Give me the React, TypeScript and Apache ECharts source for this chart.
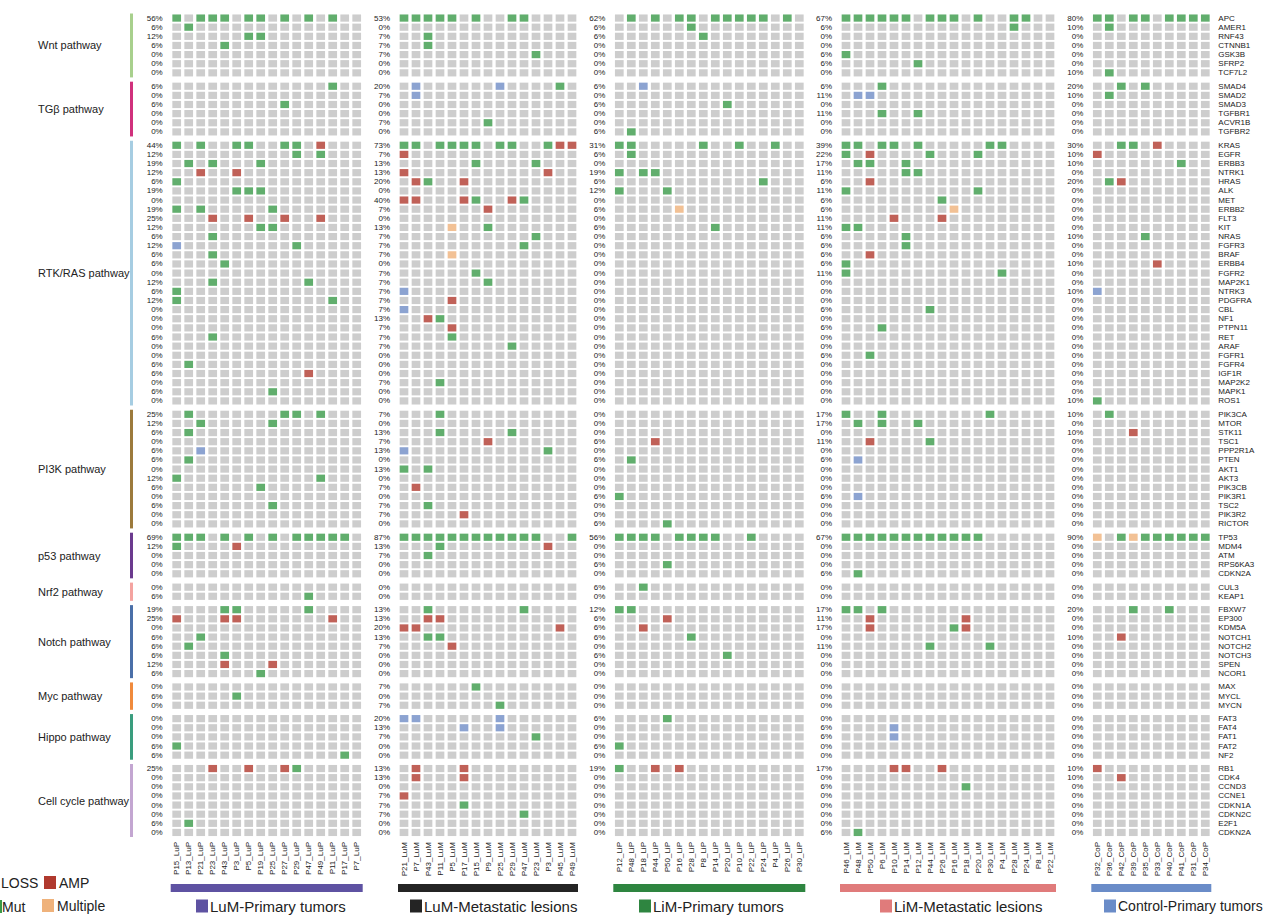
import React, { useEffect, useRef } from "react";
import * as echarts from "echarts";

// ---------- categories ----------
const PATHWAY_KEYS = ["wnt", "tgf", "rtk", "pi3k", "p53", "nrf2", "notch", "myc", "hippo", "cc"];
const PATHWAY_LABELS = [
  "Wnt pathway", "TGβ pathway", "RTK/RAS pathway", "PI3K pathway", "p53 pathway",
  "Nrf2 pathway", "Notch pathway", "Myc pathway", "Hippo pathway", "Cell cycle pathway",
];
const PATHWAY_COLORS = [
  "#a8d08d", "#d0317c", "#a6cde2", "#9c7a3c", "#6b3a8e",
  "#f4a3a0", "#4a6fa8", "#f08a3c", "#3a9d7e", "#c3a6d1",
];
const WNT_GENES = ["APC", "AMER1", "RNF43", "CTNNB1", "GSK3B", "SFRP2", "TCF7L2"];
const TGF_GENES = ["SMAD4", "SMAD2", "SMAD3", "TGFBR1", "ACVR1B", "TGFBR2"];
const RTK_GENES = [
  "KRAS", "EGFR", "ERBB3", "NTRK1", "HRAS", "ALK", "MET", "ERBB2", "FLT3", "KIT", "NRAS",
  "FGFR3", "BRAF", "ERBB4", "FGFR2", "MAP2K1", "NTRK3", "PDGFRA", "CBL", "NF1", "PTPN11",
  "RET", "ARAF", "FGFR1", "FGFR4", "IGF1R", "MAP2K2", "MAPK1", "ROS1",
];
const PI3K_GENES = [
  "PIK3CA", "MTOR", "STK11", "TSC1", "PPP2R1A", "PTEN", "AKT1", "AKT3", "PIK3CB",
  "PIK3R1", "TSC2", "PIK3R2", "RICTOR",
];
const P53_GENES = ["TP53", "MDM4", "ATM", "RPS6KA3", "CDKN2A"];
const NRF2_GENES = ["CUL3", "KEAP1"];
const NOTCH_GENES = ["FBXW7", "EP300", "KDM5A", "NOTCH1", "NOTCH2", "NOTCH3", "SPEN", "NCOR1"];
const MYC_GENES = ["MAX", "MYCL", "MYCN"];
const HIPPO_GENES = ["FAT3", "FAT4", "FAT1", "FAT2", "NF2"];
const CC_GENES = ["RB1", "CDK4", "CCND3", "CCNE1", "CDKN1A", "CDKN2C", "E2F1", "CDKN2A"];
const PATHWAY_GENES = [
  WNT_GENES, TGF_GENES, RTK_GENES, PI3K_GENES, P53_GENES,
  NRF2_GENES, NOTCH_GENES, MYC_GENES, HIPPO_GENES, CC_GENES,
];

const GROUP_NAMES = [
  "LuM-Primary tumors", "LuM-Metastatic lesions", "LiM-Primary tumors",
  "LiM-Metastatic lesions", "Control-Primary tumors",
];
const GROUP_COLORS = ["#5e52a2", "#242424", "#2e8540", "#e07b7b", "#6a8cc8"];

const LUP_SAMPLES = ["P15_LuP", "P13_LuP", "P21_LuP", "P23_LuP", "P43_LuP", "P3_LuP", "P5_LuP", "P19_LuP", "P25_LuP", "P27_LuP", "P29_LuP", "P47_LuP", "P49_LuP", "P11_LuP", "P17_LuP", "P7_LuP"];
const LUM_SAMPLES = ["P21_LuM", "P7_LuM", "P43_LuM", "P11_LuM", "P5_LuM", "P17_LuM", "P15_LuM", "P9_LuM", "P25_LuM", "P29_LuM", "P47_LuM", "P23_LuM", "P3_LuM", "P45_LuM", "P49_LuM"];
const LIP_SAMPLES = ["P12_LiP", "P48_LiP", "P18_LiP", "P44_LiP", "P50_LiP", "P16_LiP", "P28_LiP", "P8_LiP", "P14_LiP", "P20_LiP", "P10_LiP", "P22_LiP", "P24_LiP", "P4_LiP", "P26_LiP", "P30_LiP"];
const LIM_SAMPLES = ["P46_LiM", "P48_LiM", "P50_LiM", "P6_LiM", "P10_LiM", "P14_LiM", "P12_LiM", "P44_LiM", "P26_LiM", "P16_LiM", "P18_LiM", "P20_LiM", "P30_LiM", "P4_LiM", "P28_LiM", "P24_LiM", "P8_LiM", "P22_LiM"];
const COP_SAMPLES = ["P32_CoP", "P36_CoP", "P42_CoP", "P39_CoP", "P35_CoP", "P33_CoP", "P40_CoP", "P41_CoP", "P31_CoP", "P34_CoP"];

// ---------- alterations: '.' none, M Mut, A AMP, L LOSS, X Multiple ----------
const LUP_ALT: [string, string][] = [
  ["wnt:APC", "M.MMM.MM.M.M.M.."],
  ["wnt:AMER1", ".M.............."],
  ["wnt:RNF43", "......MM........"],
  ["wnt:CTNNB1", "....M..........."],
  ["tgf:SMAD4", ".............M.."],
  ["tgf:SMAD3", ".........M......"],
  ["rtk:KRAS", "M.M..MM..MM.A..."],
  ["rtk:EGFR", "..........M.M..."],
  ["rtk:ERBB3", ".M.M...M........"],
  ["rtk:NTRK1", "..A..A.........."],
  ["rtk:HRAS", "M..............."],
  ["rtk:ALK", ".....MMM........"],
  ["rtk:ERBB2", "M.M.....M......."],
  ["rtk:FLT3", "...A..A..A..A..."],
  ["rtk:KIT", ".......MM......."],
  ["rtk:NRAS", "...M............"],
  ["rtk:FGFR3", "L.........M....."],
  ["rtk:BRAF", "...M............"],
  ["rtk:ERBB4", "....M..........."],
  ["rtk:MAP2K1", "...M.......M...."],
  ["rtk:NTRK3", "M..............."],
  ["rtk:PDGFRA", "M............M.."],
  ["rtk:RET", "...M............"],
  ["rtk:FGFR4", ".M.............."],
  ["rtk:IGF1R", "...........A...."],
  ["rtk:MAPK1", "........M......."],
  ["pi3k:PIK3CA", ".M.......MM.M..."],
  ["pi3k:MTOR", "..M.....M......."],
  ["pi3k:STK11", ".M.............."],
  ["pi3k:PPP2R1A", "..L............."],
  ["pi3k:PTEN", ".M.............."],
  ["pi3k:AKT3", "M...........M..."],
  ["pi3k:PIK3CB", ".......M........"],
  ["pi3k:TSC2", "........M......."],
  ["p53:TP53", "MMM.M.M.M.MMMMM."],
  ["p53:MDM4", "M....A.........."],
  ["nrf2:KEAP1", "...........M...."],
  ["notch:FBXW7", "....MM.....M...."],
  ["notch:EP300", "A...AA.......A.."],
  ["notch:NOTCH1", "..M............."],
  ["notch:NOTCH2", ".M.............."],
  ["notch:NOTCH3", "....M..........."],
  ["notch:SPEN", "....A...A......."],
  ["notch:NCOR1", ".......M........"],
  ["myc:MYCL", ".....M.........."],
  ["hippo:FAT2", "M..............."],
  ["hippo:NF2", "..............M."],
  ["cc:RB1", "...A..A..AM....."],
  ["cc:E2F1", ".M.............."],
];

const LUM_ALT: [string, string][] = [
  ["wnt:APC", "MMMMM.M..MM...."],
  ["wnt:RNF43", "..M............"],
  ["wnt:CTNNB1", "..M............"],
  ["wnt:GSK3B", "...........M..."],
  ["tgf:SMAD4", ".L......L....M."],
  ["tgf:SMAD2", ".L............."],
  ["tgf:ACVR1B", ".......M......."],
  ["rtk:KRAS", "MM.MMMM.MM..MAA"],
  ["rtk:EGFR", "A.............."],
  ["rtk:ERBB3", "......M....M..."],
  ["rtk:NTRK1", "A...........A.."],
  ["rtk:HRAS", ".AM..A........."],
  ["rtk:MET", "AA...AM..AM...."],
  ["rtk:ERBB2", ".......A......."],
  ["rtk:KIT", "....X..M......."],
  ["rtk:NRAS", "...........M..."],
  ["rtk:FGFR3", "..........M...."],
  ["rtk:BRAF", "....X.........."],
  ["rtk:FGFR2", "......M........"],
  ["rtk:MAP2K1", ".......M......."],
  ["rtk:NTRK3", "L.............."],
  ["rtk:PDGFRA", "....A.........."],
  ["rtk:CBL", "L.............."],
  ["rtk:NF1", "..AM..........."],
  ["rtk:PTPN11", "....A.........."],
  ["rtk:RET", "....M.........."],
  ["rtk:ARAF", ".........M....."],
  ["rtk:MAP2K2", "...M..........."],
  ["pi3k:PIK3CA", "...M..........."],
  ["pi3k:STK11", "...M.....M....."],
  ["pi3k:TSC1", ".......A......."],
  ["pi3k:PPP2R1A", "L...........M.."],
  ["pi3k:AKT1", "M.M............"],
  ["pi3k:PIK3CB", ".A............."],
  ["pi3k:TSC2", "..M............"],
  ["pi3k:PIK3R2", ".....A........."],
  ["p53:TP53", "MMMMMMMMMMMM..M"],
  ["p53:MDM4", "...M........A.."],
  ["p53:ATM", "..M............"],
  ["notch:FBXW7", "..M.......M...."],
  ["notch:EP300", "..AA..........."],
  ["notch:KDM5A", "AA...........A."],
  ["notch:NOTCH1", "..MM..........."],
  ["notch:NOTCH2", "....A.........."],
  ["myc:MAX", "......M........"],
  ["myc:MYCN", "........M......"],
  ["hippo:FAT3", "LL......L......"],
  ["hippo:FAT4", ".....L..L......"],
  ["hippo:FAT1", "...........M..."],
  ["cc:RB1", ".A...A........."],
  ["cc:CDK4", ".A...A........."],
  ["cc:CCNE1", "A.............."],
  ["cc:CDKN1A", ".....M........."],
  ["cc:CDKN2C", "..........M...."],
];

const LIP_ALT: [string, string][] = [
  ["wnt:APC", ".M.M.MM.MMMMM.M."],
  ["wnt:AMER1", "......M........."],
  ["wnt:RNF43", ".......M........"],
  ["tgf:SMAD4", "..L............."],
  ["tgf:SMAD3", ".........M......"],
  ["tgf:TGFBR2", ".M.............."],
  ["rtk:KRAS", "MM.....M..M..M.."],
  ["rtk:EGFR", ".M.............."],
  ["rtk:NTRK1", "M.MM............"],
  ["rtk:HRAS", "............M..."],
  ["rtk:ALK", "M...M..........."],
  ["rtk:ERBB2", ".....X.........."],
  ["rtk:KIT", "........M......."],
  ["pi3k:TSC1", "...A............"],
  ["pi3k:PTEN", ".M.............."],
  ["pi3k:PIK3R1", "M..............."],
  ["pi3k:RICTOR", "....M..........."],
  ["p53:TP53", "MMMM.MMMM..M...."],
  ["p53:RPS6KA3", "....M..........."],
  ["nrf2:CUL3", "..M............."],
  ["notch:FBXW7", "MM.............."],
  ["notch:EP300", "....A..........."],
  ["notch:KDM5A", "..A............."],
  ["notch:NOTCH1", "......M........."],
  ["notch:NOTCH3", ".........M......"],
  ["hippo:FAT3", "....M..........."],
  ["hippo:FAT2", "M..............."],
  ["cc:RB1", "M..A.A.........."],
];

const LIM_ALT: [string, string][] = [
  ["wnt:APC", "MMMMMM.MMM.M..MM.."],
  ["wnt:AMER1", "..............M..."],
  ["wnt:GSK3B", "M................."],
  ["wnt:SFRP2", "......M..........."],
  ["tgf:SMAD4", "...M.............."],
  ["tgf:SMAD2", ".LL..............."],
  ["tgf:TGFBR1", "...M..M..........."],
  ["rtk:KRAS", "MM.MM.M.....MM...."],
  ["rtk:EGFR", "M.A....M...M......"],
  ["rtk:ERBB3", ".MM..M............"],
  ["rtk:NTRK1", ".....MM..........."],
  ["rtk:HRAS", "..A..............."],
  ["rtk:ALK", "M..........M......"],
  ["rtk:MET", "........M........."],
  ["rtk:ERBB2", ".........X........"],
  ["rtk:FLT3", "....A...A........."],
  ["rtk:KIT", "MM................"],
  ["rtk:NRAS", ".....M............"],
  ["rtk:FGFR3", ".....M............"],
  ["rtk:BRAF", "..A..............."],
  ["rtk:ERBB4", "M................."],
  ["rtk:FGFR2", "M............M...."],
  ["rtk:CBL", ".......M.........."],
  ["rtk:PTPN11", "...M.............."],
  ["rtk:FGFR1", "..M..............."],
  ["pi3k:PIK3CA", "M..M........M....."],
  ["pi3k:MTOR", ".M.M..M..........."],
  ["pi3k:TSC1", "..A....M.........."],
  ["pi3k:PTEN", ".L................"],
  ["pi3k:PIK3R1", ".L................"],
  ["p53:TP53", "MMMMMMMMMMMM......"],
  ["p53:CDKN2A", ".M................"],
  ["notch:FBXW7", "MM.M.............."],
  ["notch:EP300", "..A.......A......."],
  ["notch:KDM5A", "..A......MA......."],
  ["notch:NOTCH2", ".......M....M....."],
  ["hippo:FAT4", "....L............."],
  ["hippo:FAT1", "....L............."],
  ["cc:RB1", "....AA..A........."],
  ["cc:CCND3", "..........M......."],
  ["cc:CDKN2A", ".M................"],
];

const COP_ALT: [string, string][] = [
  ["wnt:APC", "MM.MM.MMMM"],
  ["wnt:AMER1", ".M........"],
  ["wnt:TCF7L2", ".M........"],
  ["tgf:SMAD4", "..M.M....."],
  ["tgf:SMAD2", ".M........"],
  ["rtk:KRAS", "..MM.A...."],
  ["rtk:EGFR", "A........."],
  ["rtk:ERBB3", ".......M.."],
  ["rtk:HRAS", ".MA......."],
  ["rtk:NRAS", "....M....."],
  ["rtk:ERBB4", ".....A...."],
  ["rtk:NTRK3", "L........."],
  ["rtk:ROS1", "M........."],
  ["pi3k:PIK3CA", ".M........"],
  ["pi3k:STK11", "...A......"],
  ["p53:TP53", "X.MXMMMMMM"],
  ["notch:FBXW7", "...M..M..."],
  ["notch:NOTCH1", "..A......."],
  ["cc:RB1", "A........."],
  ["cc:CDK4", "..A......."],
];

const GROUP_SAMPLES = [LUP_SAMPLES, LUM_SAMPLES, LIP_SAMPLES, LIM_SAMPLES, COP_SAMPLES];
const GROUP_ALTS = [LUP_ALT, LUM_ALT, LIP_ALT, LIM_ALT, COP_ALT];

// ---------- styling / layout ----------
const CELL_COLORS: Record<string, string> = {
  ".": "#c0c0c0",
  M: "#3a9a48",
  A: "#b0392e",
  L: "#6f8cc6",
  X: "#efb27b",
};
const FONT = "'Liberation Sans', Arial, Helvetica, sans-serif";
const TEXT = "#222222";
const ROW_PITCH = 9.13;
const TOP0 = 13.5;
const BLOCK_GAP = 4.26;
const COL_PITCH = 12;
const GROUP_LEFT = [170.7, 398, 613.3, 840, 1091.3];
const GROUP_LEGEND_X = [196, 410, 639, 880, 1104];
const GROUP_LEGEND_FONT = [15, 15, 15, 15, 14];
const PATHWAY_BAR_X = 130;

function pctLabel(row: string | undefined, n: number): string {
  const c = row ? row.split("").filter((ch) => ch !== ".").length : 0;
  const v = (c / n) * 100;
  const f = Math.floor(v);
  let r: number;
  if (Math.abs(v - f - 0.5) < 1e-9) r = f % 2 === 0 ? f : f + 1;
  else r = Math.round(v);
  return r + "%";
}

function buildOption() {
  const grids: any[] = [];
  const xAxes: any[] = [];
  const yAxes: any[] = [];
  const series: any[] = [];
  const graphics: any[] = [];

  let top = TOP0;
  const lastP = PATHWAY_KEYS.length - 1;
  PATHWAY_KEYS.forEach((pk, p) => {
    const genes = PATHWAY_GENES[p];
    const height = genes.length * ROW_PITCH;
    graphics.push({
      type: "rect",
      shape: { x: PATHWAY_BAR_X, y: top, width: 3, height: height },
      style: { fill: PATHWAY_COLORS[p] },
      silent: true,
    });
    graphics.push({
      type: "text",
      x: 38,
      y: top + height / 2,
      style: {
        text: PATHWAY_LABELS[p],
        fill: TEXT,
        font: `11px ${FONT}`,
        textAlign: "left",
        textVerticalAlign: "middle",
      },
      silent: true,
    });

    GROUP_SAMPLES.forEach((samples, g) => {
      const n = samples.length;
      const gi = grids.length;
      const alt = new Map(GROUP_ALTS[g]);
      const rows = genes.map((gene) => alt.get(pk + ":" + gene));
      grids.push({ left: GROUP_LEFT[g], top: top, width: n * COL_PITCH, height: height });
      xAxes.push({
        type: "category",
        gridIndex: gi,
        data: samples,
        axisLine: { show: false },
        axisTick: { show: false },
        splitLine: { show: false },
        axisLabel: {
          show: p === lastP,
          interval: 0,
          rotate: 90,
          fontSize: 8,
          margin: 5,
          color: TEXT,
          fontFamily: FONT,
        },
      });
      const yi = yAxes.length;
      yAxes.push({
        type: "category",
        gridIndex: gi,
        data: genes,
        inverse: true,
        position: "left",
        axisLine: { show: false },
        axisTick: { show: false },
        splitLine: { show: false },
        axisLabel: {
          interval: 0,
          fontSize: 8,
          margin: 8,
          color: TEXT,
          fontFamily: FONT,
          formatter: (_v: string, idx: number) => pctLabel(rows[idx], n),
        },
      });
      if (g === GROUP_SAMPLES.length - 1) {
        yAxes.push({
          type: "category",
          gridIndex: gi,
          data: genes,
          inverse: true,
          position: "right",
          axisLine: { show: false },
          axisTick: { show: false },
          splitLine: { show: false },
          axisLabel: {
            interval: 0,
            fontSize: 8,
            margin: 7,
            color: TEXT,
            fontFamily: FONT,
          },
        });
      }
      const data: any[] = [];
      genes.forEach((_gene, r) => {
        const row = rows[r];
        for (let c = 0; c < n; c++) {
          const ch = row ? row[c] : ".";
          data.push({ value: [c, r], itemStyle: { color: CELL_COLORS[ch] || CELL_COLORS["."] } });
        }
      });
      series.push({
        type: "scatter",
        xAxisIndex: gi,
        yAxisIndex: yi,
        symbol: "rect",
        symbolSize: [8.7, 7.2],
        silent: true,
        data,
      });
    });
    top += height + BLOCK_GAP;
  });

  GROUP_SAMPLES.forEach((samples, g) => {
    graphics.push({
      type: "rect",
      shape: { x: GROUP_LEFT[g], y: 884, width: samples.length * COL_PITCH, height: 8 },
      style: { fill: GROUP_COLORS[g] },
      silent: true,
    });
    graphics.push({
      type: "rect",
      shape: { x: GROUP_LEGEND_X[g], y: 899.5, width: 12, height: 13 },
      style: { fill: GROUP_COLORS[g] },
      silent: true,
    });
    graphics.push({
      type: "text",
      x: GROUP_LEGEND_X[g] + 14,
      y: 906,
      style: {
        text: GROUP_NAMES[g],
        fill: TEXT,
        font: `${GROUP_LEGEND_FONT[g]}px ${FONT}`,
        textAlign: "left",
        textVerticalAlign: "middle",
      },
      silent: true,
    });
  });

  const legendItems = [
    { x: 44, y: 876, color: CELL_COLORS.A, label: "AMP" },
    { x: 42, y: 899, color: CELL_COLORS.X, label: "Multiple" },
  ];
  legendItems.forEach((it) => {
    graphics.push({
      type: "rect",
      shape: { x: it.x, y: it.y, width: 12, height: 13 },
      style: { fill: it.color },
      silent: true,
    });
    graphics.push({
      type: "text",
      x: it.x + 15,
      y: it.y + 6.5,
      style: { text: it.label, fill: TEXT, font: `14px ${FONT}`, textAlign: "left", textVerticalAlign: "middle" },
      silent: true,
    });
  });
  graphics.push({
    type: "rect",
    shape: { x: 0, y: 900, width: 2, height: 13 },
    style: { fill: CELL_COLORS.M },
    silent: true,
  });
  graphics.push({
    type: "text",
    x: 1,
    y: 882.5,
    style: { text: "LOSS", fill: TEXT, font: `14px ${FONT}`, textAlign: "left", textVerticalAlign: "middle" },
    silent: true,
  });
  graphics.push({
    type: "text",
    x: 2,
    y: 907,
    style: { text: "Mut", fill: TEXT, font: `14px ${FONT}`, textAlign: "left", textVerticalAlign: "middle" },
    silent: true,
  });

  return {
    animation: false,
    backgroundColor: "#ffffff",
    textStyle: { fontFamily: FONT },
    grid: grids,
    xAxis: xAxes,
    yAxis: yAxes,
    series,
    graphic: graphics,
  };
}

export default function App() {
  const ref = useRef<HTMLDivElement>(null);
  useEffect(() => {
    if (!ref.current) return;
    const chart = echarts.init(ref.current, undefined, { renderer: "svg" });
    chart.setOption(buildOption() as any);
    return () => chart.dispose();
  }, []);
  return (
    <div
      ref={ref}
      style={{ position: "fixed", left: 0, top: 0, width: 1269, height: 916, background: "#fff" }}
    />
  );
}
